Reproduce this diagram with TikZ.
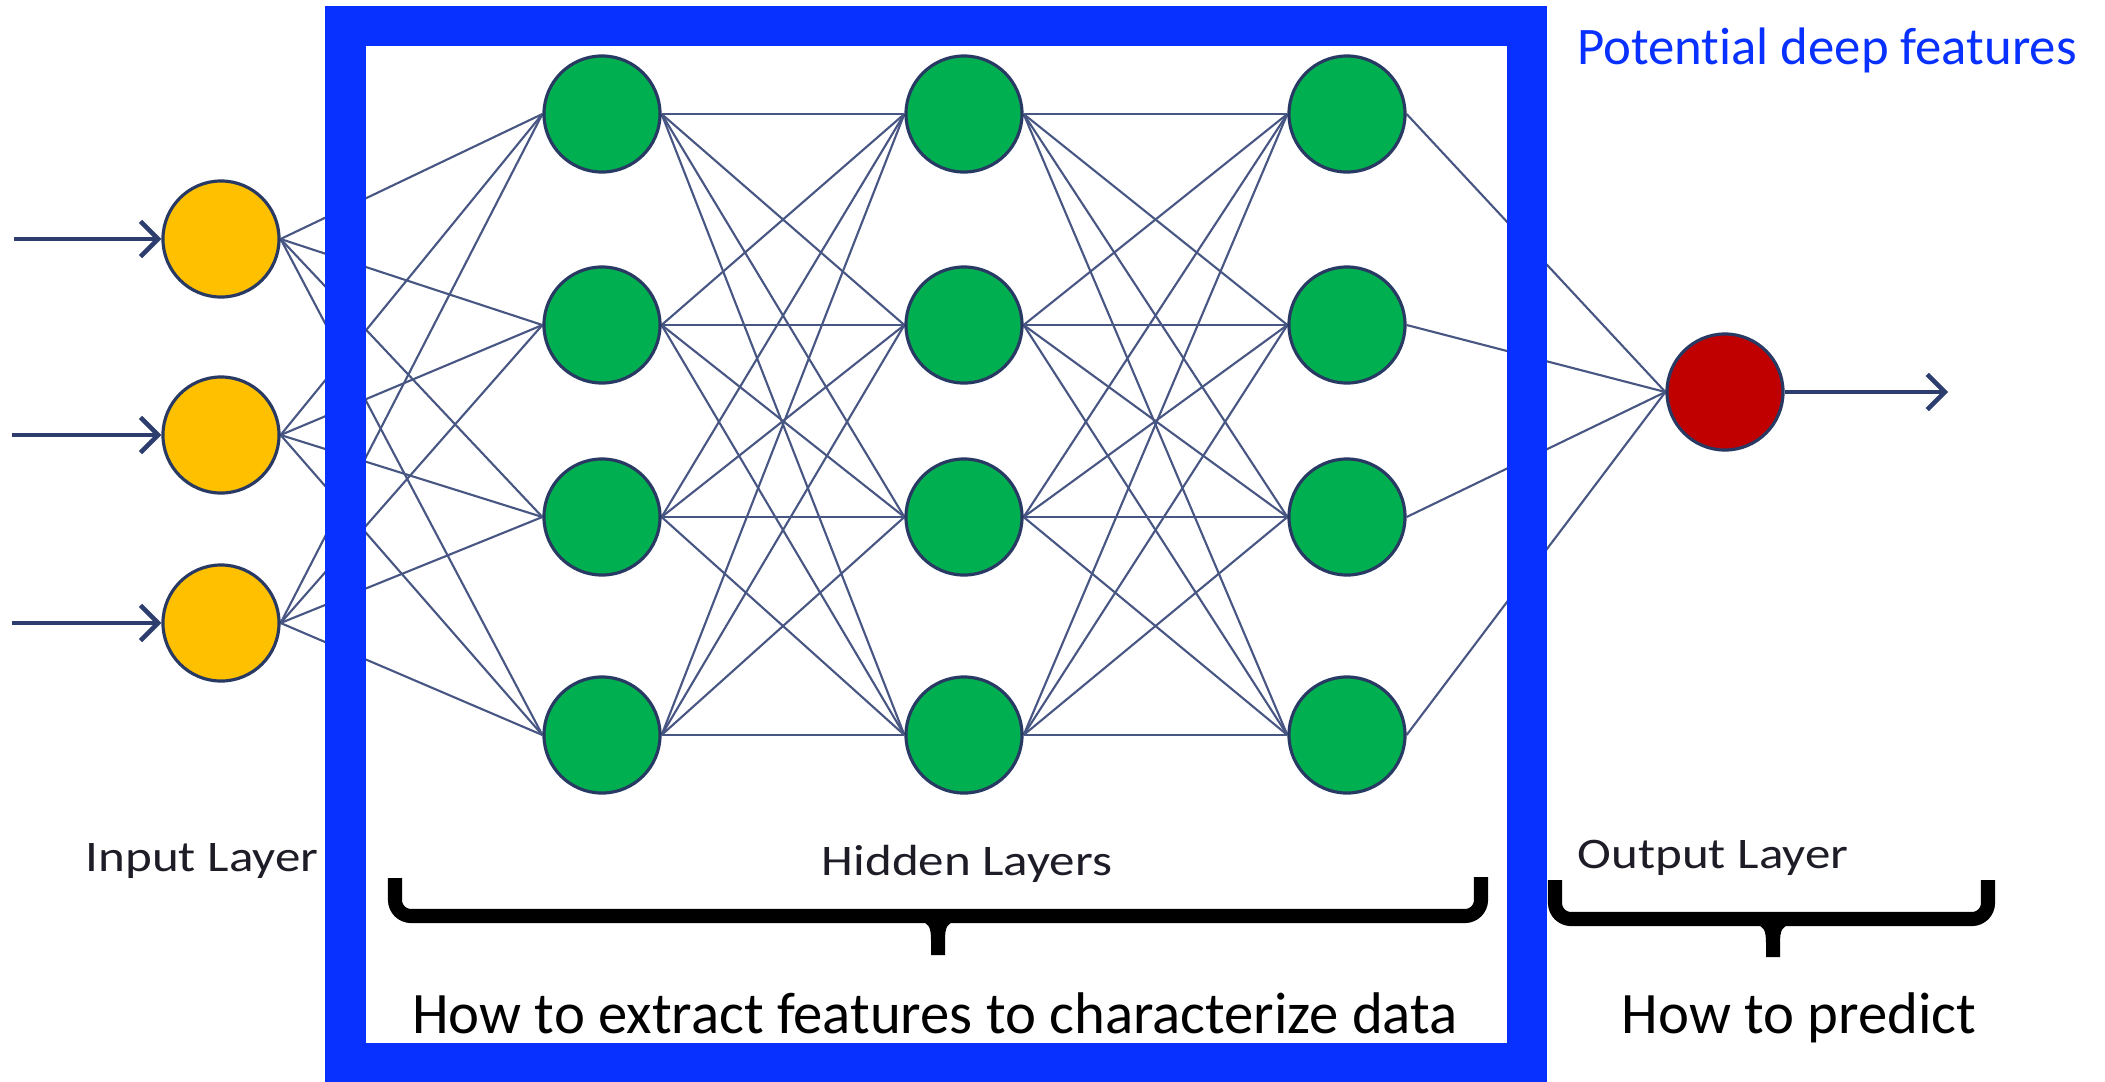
\documentclass[tikz,border=0pt]{standalone}
\usepackage{fontspec}
\setmainfont{Carlito}[Ligatures=NoCommon]
\newfontfamily\labfont[FakeStretch=1.17,Ligatures=NoCommon]{Carlito}
\usetikzlibrary{arrows.meta,backgrounds}
\definecolor{frameblue}{RGB}{8,48,255}
\definecolor{inyellow}{RGB}{255,192,0}
\definecolor{hidgreen}{RGB}{0,176,80}
\definecolor{outred}{RGB}{192,0,0}
\definecolor{nodeline}{RGB}{40,58,100}
\definecolor{edgecol}{RGB}{72,86,132}
\definecolor{arrowcol}{RGB}{45,62,110}
\definecolor{labcol}{RGB}{30,28,38}
\begin{document}
\begin{tikzpicture}[x=0.01cm,y=-0.01cm,
  neuron/.style={circle,minimum size=1.16cm,inner sep=0pt,draw=nodeline,line width=0.9pt},
  edge/.style={draw=edgecol,line width=0.6pt},
  flowarrow/.style={draw=arrowcol,line width=1.3pt,-{Straight Barb[length=5pt,width=10pt,line width=1.3pt]}},
  bracket/.style={draw=black,line width=4pt,rounded corners=0.16cm},
  lab/.style={anchor=base,inner sep=0pt,text=labcol,font=\labfont\fontsize{12.4}{14}\selectfont},
  big/.style={anchor=base,inner sep=0pt,text=black,font=\fontsize{16.7}{20}\selectfont}]
\useasboundingbox (0,0) rectangle (2105,1081);

% input layer
\node[neuron,fill=inyellow] (i1) at (221,239) {};
\node[neuron,fill=inyellow] (i2) at (221,435) {};
\node[neuron,fill=inyellow] (i3) at (221,623) {};
% hidden layers
\foreach \c/\x in {a/602,b/964,c/1347}{
  \node[neuron,fill=hidgreen] (\c1) at (\x,114) {};
  \node[neuron,fill=hidgreen] (\c2) at (\x,325) {};
  \node[neuron,fill=hidgreen] (\c3) at (\x,517) {};
  \node[neuron,fill=hidgreen] (\c4) at (\x,735) {};
}
% output
\node[neuron,fill=outred] (o) at (1725,392) {};

% input / output arrows
\coordinate (s1) at (14,239);
\coordinate (s2) at (12,435);
\coordinate (s3) at (12,623);
\coordinate (e) at (1948,392);
\draw[flowarrow] (s1) -- (i1.west);
\draw[flowarrow] (s2) -- (i2.west);
\draw[flowarrow] (s3) -- (i3.west);
\draw[flowarrow] (o.east) -- (e);

\begin{scope}[on background layer]
  \fill[white] (0,0) rectangle (2105,1081);
  \foreach \i in {1,2,3}{\foreach \j in {1,2,3,4}{\draw[edge] (i\i.east) -- (a\j.west);}}
  \foreach \i in {1,2,3,4}{\foreach \j in {1,2,3,4}{\draw[edge] (a\i.east) -- (b\j.west);}}
  \foreach \i in {1,2,3,4}{\foreach \j in {1,2,3,4}{\draw[edge] (b\i.east) -- (c\j.west);}}
  \foreach \i in {1,2,3,4}{\draw[edge] (c\i.east) -- (o.west);}
\end{scope}

% blue frame
\draw[frameblue,line width=0.40cm] (345.5,26) rectangle (1527,1063);
\node[anchor=base,inner sep=0pt,text=frameblue,font=\fontsize{15}{18}\selectfont] (pdf) at (1827,64) {Potent\kern0pt ial deep features};

% labels
\node[lab] (inl) at (202,871) {Input Layer};
\node[lab] (hdl) at (967,875) {Hidden Layers};
\node[lab] (otl) at (1713,868) {Output Layer};

% brackets
\draw[bracket] (395,878) -- (395,916) -- (1481,916) -- (1481,877);
\fill[black] (920,922) .. controls (929,922) and (931,928) .. (931,940) -- (931,955) -- (945,955) -- (945,940) .. controls (945,928) and (947,922) .. (956,922) -- cycle;
\draw[bracket] (1555,880) -- (1555,919) -- (1988,919) -- (1988,880);
\fill[black] (1755,925) .. controls (1764,925) and (1766,931) .. (1766,943) -- (1766,957) -- (1780,957) -- (1780,943) .. controls (1780,931) and (1782,925) .. (1791,925) -- cycle;

\node[big] (hx) at (935,1033) {How to extract features to characterize data};
\node[big] (hp) at (1799,1033) {How to predict};
\end{tikzpicture}
\end{document}
